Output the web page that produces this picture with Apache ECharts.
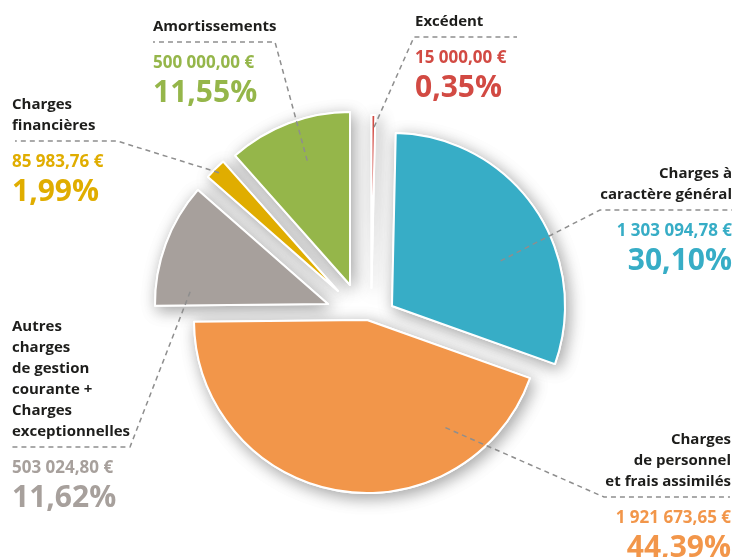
<!DOCTYPE html>
<html><head><meta charset="utf-8">
<script src="https://cdn.jsdelivr.net/npm/echarts@6/dist/echarts.min.js"></script>
<style>html,body{margin:0;padding:0;background:#fff}#c{width:734px;height:557px}</style>
</head><body><div id="c"></div>
<script>
// ---- data ----
const categories = [
  'Excédent',
  'Charges à\ncaractère général',
  'Charges\nde personnel\net frais assimilés',
  'Autres\ncharges\nde gestion\ncourante +\nCharges\nexceptionnelles',
  'Charges\nfinancières',
  'Amortissements'
];
const amounts = [15000.00, 1303094.78, 1921673.65, 503024.80, 85983.76, 500000.00];

// ---- styles / layout ----
const palette = ['#d24a43', '#37adc6', '#f2964a', '#a7a09c', '#e0ad00', '#95b64a'];
const sliceCenters = [[371.5, 288], [392, 306], [367, 320], [328, 304], [338, 291], [350, 285]];
const RADIUS = 173;
const labelPlacement = [
  {frac: 0.93, dAng: 0.3,   bend: [414, 37],  end: 517, align: 'left',  x: 415},
  {frac: 0.68, dAng: 12,    bend: [600, 210], end: 732, align: 'right', x: 732},
  {frac: 0.77, dAng: -45.6, bend: [604, 497], end: 730, align: 'right', x: 731},
  {frac: 0.80, dAng: -15.3, bend: [130, 447], end: 12,  align: 'left',  x: 12},
  {frac: 0.97, dAng: 0,     bend: [117, 141], end: 15,  align: 'left',  x: 12},
  {frac: 0.76, dAng: 1.8,   bend: [275, 42],  end: 153, align: 'left',  x: 153}
];
const FONT = '"Open Sans", "Noto Sans", sans-serif';
const NAME_LH = 21;

function fmtEuro(v) {
  const parts = v.toFixed(2).split('.');
  return parts[0].replace(/\B(?=(\d{3})+(?!\d))/g, ' ') + ',' + parts[1] + ' €';
}

const chart = echarts.init(document.getElementById('c'), null, {renderer: 'canvas'});
const series = [];
const hidden = {color: 'rgba(0,0,0,0)', borderWidth: 0, shadowBlur: 0, shadowColor: 'rgba(0,0,0,0)'};

categories.forEach(function (cat, i) {
  const pl = labelPlacement[i];
  const c = sliceCenters[i];
  const base = {
    type: 'pie', silent: true, animation: false,
    center: c, radius: RADIUS, startAngle: 90, clockwise: true,
    avoidLabelOverlap: false, emphasis: {disabled: true}
  };
  // shadow layer
  series.push(Object.assign({}, base, {
    z: 1,
    label: {show: false}, labelLine: {show: false},
    data: amounts.map(function (v, j) {
      return {
        name: categories[j], value: v,
        itemStyle: j === i ? {
          color: palette[i], borderColor: '#fff', borderWidth: 2,
          shadowBlur: 16, shadowColor: 'rgba(0,0,0,0.36)', shadowOffsetX: 3, shadowOffsetY: 4
        } : hidden
      };
    })
  }));
  // visible slice layer
  series.push(Object.assign({}, base, {
    z: 2,
    label: {show: false}, labelLine: {show: false},
    data: amounts.map(function (v, j) {
      return {
        name: categories[j], value: v,
        itemStyle: j === i ? {color: palette[i], borderColor: '#fff', borderWidth: 2} : hidden
      };
    })
  }));
  // label layer (transparent slices, labels + leader lines on top)
  const rich = {
    n: {fontFamily: FONT, fontWeight: 700, fontSize: 15, lineHeight: NAME_LH, color: '#1d1d1b', align: pl.align},
    s: {fontSize: 4, lineHeight: 14, align: pl.align},
    v: {fontFamily: FONT, fontWeight: 700, fontSize: 17, lineHeight: 24, color: palette[i], align: pl.align},
    p: {fontFamily: FONT, fontWeight: 700, fontSize: 30, lineHeight: 36, color: palette[i], align: pl.align}
  };
  const nLines = cat.split('\n').length;
  series.push(Object.assign({}, base, {
    z: 3,
    label: {
      show: true, position: 'outside', align: pl.align,
      formatter: function (p) {
        const names = categories[p.dataIndex].split('\n').map(function (s) { return '{n|' + s + '}'; }).join('\n');
        return names + '\n{s| }\n{v|' + fmtEuro(amounts[p.dataIndex]) + '}\n{p|' + p.percent.toFixed(2).replace('.', ',') + '%}';
      },
      rich: rich
    },
    labelLine: {
      show: true, length: 10, length2: 10, smooth: false,
      lineStyle: {color: '#8e8e8e', width: 1.5, type: [5, 4]}
    },
    labelLayout: function (params) {
      if (params.dataIndex !== i || !params.labelLinePoints) return {};
      const p0 = params.labelLinePoints[0];
      const vx = p0[0] - c[0], vy = p0[1] - c[1];
      const a = pl.dAng * Math.PI / 180;
      const rx = vx * Math.cos(a) - vy * Math.sin(a);
      const ry = vx * Math.sin(a) + vy * Math.cos(a);
      const start = [c[0] + pl.frac * rx, c[1] + pl.frac * ry];
      return {
        x: pl.x, y: pl.bend[1] - nLines * NAME_LH - 5,
        align: pl.align, verticalAlign: 'top',
        labelLinePoints: [start, pl.bend, [pl.end, pl.bend[1]]]
      };
    },
    data: amounts.map(function (v, j) {
      if (j === i) return {name: categories[j], value: v, itemStyle: hidden};
      return {name: categories[j], value: v, itemStyle: hidden, label: {show: false}, labelLine: {show: false}};
    })
  }));
});

chart.setOption({animation: false, backgroundColor: '#fff', series: series});
</script>
</body></html>
